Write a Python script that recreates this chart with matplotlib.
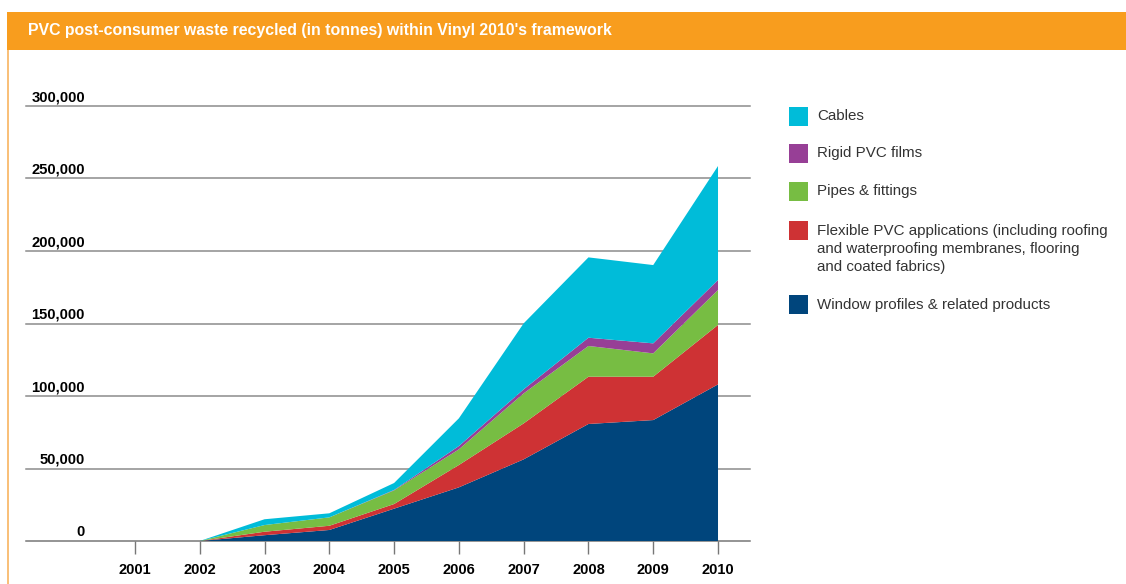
import matplotlib.pyplot as plt
from matplotlib.patches import Rectangle
from matplotlib.transforms import blended_transform_factory, offset_copy

W, H = 1126, 584

years = [2002, 2003, 2004, 2005, 2006, 2007, 2008, 2009, 2010]
tick_years = [2001, 2002, 2003, 2004, 2005, 2006, 2007, 2008, 2009, 2010]

window = [0, 4000, 7600, 22300, 37000, 56300, 80700, 83400, 108000]
flexible = [0, 2400, 2900, 3200, 15400, 24800, 32600, 29900, 41000]
pipes = [0, 4600, 5800, 9400, 10800, 20700, 21200, 16100, 24100]
rigid = [0, 0, 0, 300, 2300, 2800, 5700, 6900, 6900]
cables = [0, 4000, 2800, 4800, 19100, 45500, 55400, 54000, 78600]

series_labels = [
    "Window profiles & related products",
    "Flexible PVC applications (including roofing\nand waterproofing membranes, flooring\nand coated fabrics)",
    "Pipes & fittings",
    "Rigid PVC films",
    "Cables",
]
colors = ["#00457C", "#CE3234", "#77BD43", "#973F96", "#00BCD9"]

y_ticks = [0, 50000, 100000, 150000, 200000, 250000, 300000]
title = "PVC post-consumer waste recycled (in tonnes) within Vinyl 2010's framework"

orange = "#F89D1E"
font = "Liberation Sans"

fig = plt.figure(figsize=(W / 100, H / 100), dpi=100)


def px(x0, y0, w, h):
    # pixel box (from top-left) -> figure fraction
    return [x0 / W, 1 - (y0 + h) / H, w / W, h / H]


# header band and left border
fig.add_artist(Rectangle((7 / W, 1 - 50 / H), 1 - 7 / W, 38 / H,
                         transform=fig.transFigure, color=orange, lw=0))
fig.add_artist(Rectangle((7 / W, 0), 1.5 / W, 1 - 50 / H,
                         transform=fig.transFigure, color="#F9C07A", lw=0))
fig.text(28 / W, 1 - 31 / H, title, color="white", fontsize=11.4,
         fontweight="bold", family=font, va="center", ha="left")

# axes: gridlines span x 26..750, baseline at y 541, 300k at y 106
ax = fig.add_axes(px(26, 106, 724, 435))
ax.set_xlim(2001 - (135 - 26) / 64.8, 2010 + (750 - 718) / 64.8)
ax.set_ylim(0, 300000)

ax.stackplot(years, window, flexible, pipes, rigid, cables,
             colors=colors, linewidth=0, zorder=3)

for v in y_ticks:
    ax.axhline(v, color="#8c8c8c" if v else "#777777", lw=1.1, zorder=2,
               clip_on=False)

for s in ax.spines.values():
    s.set_visible(False)

ax.set_yticks([])
ax.set_xticks(tick_years)
ax.set_xticklabels([str(y) for y in tick_years], fontsize=10.5,
                   fontweight="bold", family=font)
ax.tick_params(axis="x", direction="out", length=9, width=1,
               color="#777777", pad=7)

trans = blended_transform_factory(fig.transFigure, ax.transData)
trans = offset_copy(trans, fig=fig, x=0, y=1.2, units="points")
for v in y_ticks:
    ax.text(85 / W, v, f"{v:,}", transform=trans, ha="right", va="bottom",
            fontsize=10.6, fontweight="bold", family=font, clip_on=False)

# legend, drawn manually top to bottom
legend_rows = [
    (4, 116),
    (3, 153),
    (2, 191),
    (1, 230),
    (0, 304),
]
for idx, yc in legend_rows:
    fig.add_artist(Rectangle(((789) / W, 1 - (yc + 9.5) / H), 19 / W, 19 / H,
                             transform=fig.transFigure, color=colors[idx],
                             lw=0))
    fig.text(817 / W, 1 - (yc - 6.5) / H, series_labels[idx], color="#333333",
             fontsize=10.9, family=font, va="top", ha="left",
             linespacing=1.38)

fig.savefig("out.png", dpi=100)
